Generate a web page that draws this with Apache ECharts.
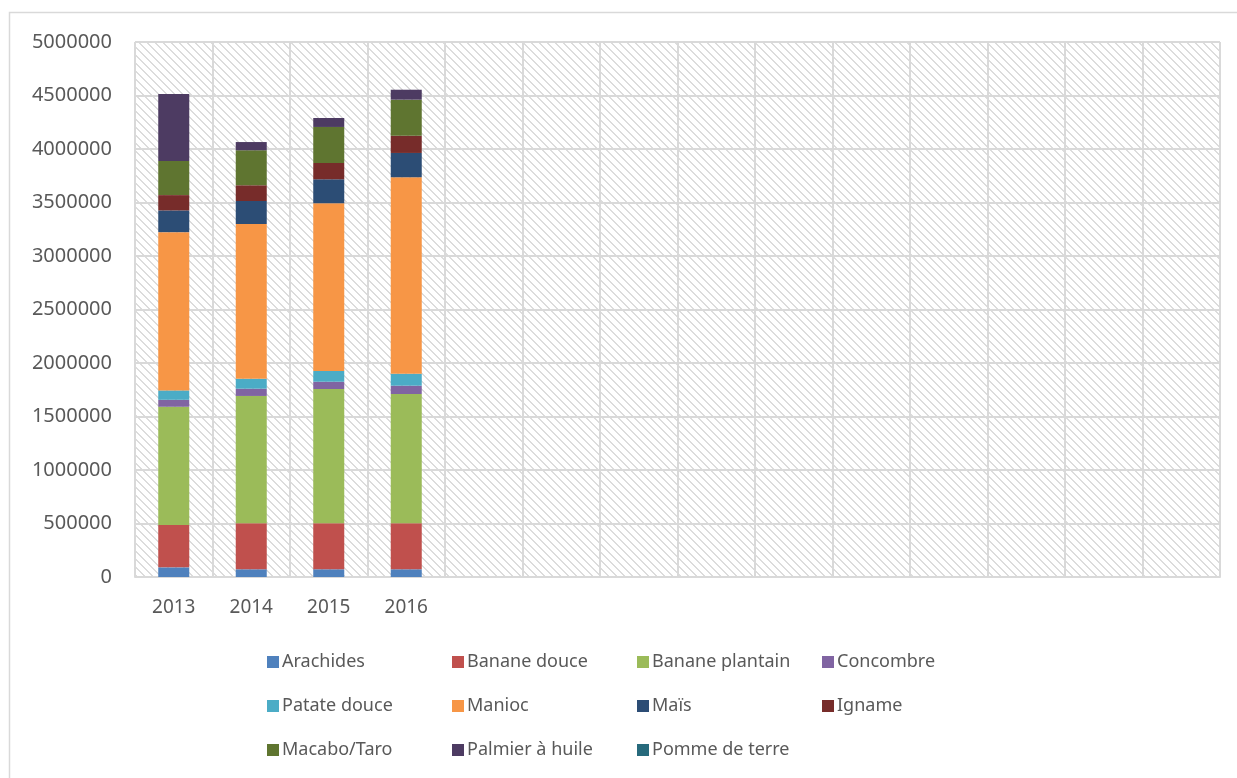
<!DOCTYPE html>
<html>
<head>
<meta charset="utf-8">
<script src="https://cdn.jsdelivr.net/npm/echarts@6/dist/echarts.min.js"></script>
<style>
  html, body { margin: 0; padding: 0; background: #fff; }
  #chart { width: 1237px; height: 778px; }
</style>
</head>
<body>
<div id="chart"></div>
<script>
// 14 category slots, only the first four carry data
const years = ['2013', '2014', '2015', '2016', '', '', '', '', '', '', '', '', '', '']

const arachides = [90000, 72000, 72000, 72000]
const bananeDouce = [396000, 430000, 430000, 430000]
const bananePlantain = [1105000, 1190000, 1255000, 1208000]
const concombre = [65000, 68000, 68000, 78000]
const patateDouce = [88000, 93000, 100000, 112000]
const manioc = [1479000, 1446000, 1568000, 1836000]
const mais = [203000, 215000, 224000, 227000]
const igname = [143000, 147000, 152000, 161000]
const macabo = [318000, 327000, 337000, 337000]
const palmier = [626000, 77000, 84000, 93000]
const pommeDeTerre = [0, 0, 0, 0]

const seriesList = [
  { name: 'Arachides', data: arachides, color: '#4F81BD' },
  { name: 'Banane douce', data: bananeDouce, color: '#C0504D' },
  { name: 'Banane plantain', data: bananePlantain, color: '#9BBB59' },
  { name: 'Concombre', data: concombre, color: '#8064A2' },
  { name: 'Patate douce', data: patateDouce, color: '#4BACC6' },
  { name: 'Manioc', data: manioc, color: '#F79646' },
  { name: 'Maïs', data: mais, color: '#2C4D75' },
  { name: 'Igname', data: igname, color: '#772C2A' },
  { name: 'Macabo/Taro', data: macabo, color: '#5F7530' },
  { name: 'Palmier à huile', data: palmier, color: '#4D3B62' },
  { name: 'Pomme de terre', data: pommeDeTerre, color: '#276A7C' }
]

// hatch pattern for the plot area (wide downward diagonal)
const hatch = document.createElement('canvas')
hatch.width = 8
hatch.height = 8
const ctx = hatch.getContext('2d')
ctx.fillStyle = '#ffffff'
ctx.fillRect(0, 0, 8, 8)
ctx.fillStyle = '#dcdcdc'
for (let i = 0; i < 8; i++) {
  ctx.fillRect(i, i, 1, 1)
  ctx.fillRect((i + 1) % 8, i, 1, 1)
}

const font = 'Noto Sans'
const chart = echarts.init(document.getElementById('chart'))

const option = {
  backgroundColor: '#ffffff',
  animation: false,
  graphic: [
    {
      type: 'rect',
      shape: { x: 9.5, y: 12.5, width: 1240, height: 780 },
      style: { fill: 'none', stroke: '#d9d9d9', lineWidth: 1.5 },
      silent: true
    }
  ],
  grid: {
    left: 135,
    right: 17,
    top: 42,
    bottom: 201,
    show: true,
    backgroundColor: { image: hatch, repeat: 'repeat' },
    borderWidth: 0
  },
  legend: {
    left: 262,
    top: 635,
    width: 760,
    itemWidth: 12,
    itemHeight: 12,
    itemGap: 0,
    icon: 'rect',
    textStyle: {
      fontFamily: font,
      fontSize: 18,
      color: '#595959',
      width: 170,
      lineHeight: 44,
      padding: [0, 0, 0, -2],
      overflow: 'none'
    },
    data: seriesList.map(s => s.name)
  },
  xAxis: {
    type: 'category',
    data: years,
    axisLine: { lineStyle: { color: '#d9d9d9', width: 2 } },
    axisTick: { show: false },
    axisLabel: {
      fontFamily: font,
      fontSize: 19,
      color: '#595959',
      margin: 21,
      interval: 0
    },
    splitLine: { show: true, lineStyle: { color: '#d9d9d9', width: 2 } }
  },
  yAxis: {
    type: 'value',
    min: 0,
    max: 5000000,
    interval: 500000,
    axisLine: { show: false },
    axisTick: { show: false },
    axisLabel: {
      fontFamily: font,
      fontSize: 20,
      color: '#595959',
      margin: 23,
      formatter: v => String(v)
    },
    splitLine: { lineStyle: { color: '#d9d9d9', width: 2 } }
  },
  series: seriesList.map(s => ({
    name: s.name,
    type: 'bar',
    stack: 'total',
    barWidth: '40%',
    data: s.data,
    itemStyle: { color: s.color }
  }))
}

chart.setOption(option)
</script>
</body>
</html>
